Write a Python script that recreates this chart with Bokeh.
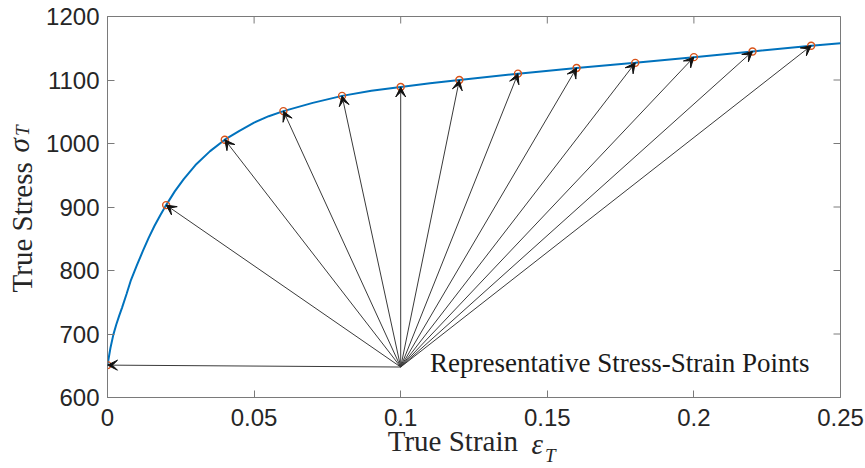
from bokeh.plotting import figure
from bokeh.models import (ColumnDataSource, Arrow, VeeHead, Label, LinearAxis,
                          FixedTicker, Range1d)
from bokeh.embed import file_html
from bokeh.resources import INLINE

# ---- data ----
curve_strain = [0, 0.001, 0.002, 0.003, 0.004, 0.005, 0.0065, 0.008, 0.01, 0.012,
                0.014, 0.016, 0.018, 0.02, 0.023, 0.026, 0.03, 0.035, 0.04, 0.045,
                0.05, 0.055, 0.06, 0.07, 0.08, 0.09, 0.10, 0.11, 0.12, 0.14, 0.16,
                0.18, 0.20, 0.22, 0.24, 0.25]
curve_stress = [651, 678, 699, 715, 729, 742, 763, 785, 808, 830,
                851, 870, 887, 903, 925, 944, 966, 988, 1006, 1020,
                1033, 1043, 1051, 1064, 1075, 1083, 1089, 1095, 1100, 1110, 1119,
                1127, 1136, 1145, 1154, 1158]

point_strain = [0, 0.02, 0.04, 0.06, 0.08, 0.10, 0.12, 0.14, 0.16, 0.18, 0.20, 0.22, 0.24]
point_stress = [651, 903, 1006, 1051, 1075, 1089, 1100, 1110, 1119, 1127, 1136, 1145, 1154]

origin_strain = 0.1
origin_stress = 648

x_ticks = [0, 0.05, 0.1, 0.15, 0.2, 0.25]
x_tick_labels = ["0", "0.05", "0.1", "0.15", "0.2", "0.25"]
y_ticks = [600, 700, 800, 900, 1000, 1100, 1200]
y_tick_labels = ["600", "700", "800", "900", "1000", "1100", "1200"]

annotation_text = "Representative Stress-Strain Points"
x_label_main, x_label_sym, x_label_sub = "True Strain", "\u03b5", "T"
y_label_main, y_label_sym, y_label_sub = "True Stress", "\u03c3", "T"

X_MIN, X_MAX = 0, 0.25
Y_MIN, Y_MAX = 600, 1200

# ---- figure ----
AX = "#262626"
AXLINE = "#7a7a7a"
p = figure(width=865, height=468, x_range=Range1d(X_MIN, X_MAX), y_range=Range1d(Y_MIN, Y_MAX),
           output_backend="svg", toolbar_location=None,
           min_border_left=106, min_border_right=25, min_border_top=16, min_border_bottom=71)
p.grid.visible = False
p.outline_line_color = AXLINE
p.outline_line_width = 1
p.background_fill_color = "white"
p.border_fill_color = "white"

def style_axis(ax, ticks, labels, standoff):
    ax.ticker = FixedTicker(ticks=ticks)
    ax.major_label_overrides = {t: l for t, l in zip(ticks, labels)}
    ax.major_tick_in = 7
    ax.major_tick_out = 0
    ax.minor_tick_in = 0
    ax.minor_tick_out = 0
    ax.axis_line_color = AXLINE
    ax.axis_line_width = 1
    ax.major_tick_line_color = AXLINE
    ax.major_label_text_font = "Liberation Sans"
    ax.major_label_text_color = AX
    ax.major_label_standoff = standoff
    ax.major_label_text_font_size = "24px"

style_axis(p.xaxis[0], x_ticks, x_tick_labels, 11)
style_axis(p.yaxis[0], y_ticks, y_tick_labels, 8)

# axis-title pieces carried by bare extra axes (one tick label each), so that
# the subscripts can sit next to the symbols outside the frame
def title_axis(pos, text, size, style, standoff, vertical):
    ax = LinearAxis(ticker=FixedTicker(ticks=[pos]), major_label_overrides={pos: text},
                    axis_line_color=None, major_tick_line_color=None,
                    minor_tick_line_color=None, major_tick_in=0, major_tick_out=0,
                    minor_tick_in=0, minor_tick_out=0,
                    major_label_text_font="Liberation Serif",
                    major_label_text_font_size=size, major_label_text_font_style=style,
                    major_label_text_color=AX, major_label_standoff=standoff)
    if vertical:
        ax.major_label_orientation = "parallel"
    return ax

# x title: "True Strain ε_T"
p.add_layout(title_axis(0.1178, x_label_main, "29px", "normal", -4, False), "below")
p.add_layout(title_axis(0.1466, x_label_sym, "29px", "italic", -32, False), "below")
p.add_layout(title_axis(0.1510, x_label_sub, "19px", "italic", -18, False), "below")
# y title: "True Stress σ_T"
p.add_layout(title_axis(868, y_label_main, "29px", "normal", 5, True), "left")
p.add_layout(title_axis(997, y_label_sym, "29px", "italic", -32, True), "left")
p.add_layout(title_axis(1020, y_label_sub, "19px", "italic", -33, True), "left")

# inward ticks on the top and right edges (box on): dash markers centred on the
# frame edge, the outer half is clipped away by the frame
p.scatter(x_ticks, [Y_MAX] * len(x_ticks), marker="dash", size=14, angle=1.5708,
          line_color=AXLINE, line_width=1)
p.scatter([X_MAX] * len(y_ticks), y_ticks, marker="dash", size=14,
          line_color=AXLINE, line_width=1)

# ---- curve and points ----
p.line(curve_strain, curve_stress, line_color="#0072BD", line_width=2)
p.scatter(point_strain, point_stress, marker="circle", size=7, fill_color=None,
          line_color="#D95319", line_width=1.4)

# ---- arrows ----
n = len(point_strain)
arrow_src = ColumnDataSource(dict(xs=[origin_strain] * n, ys=[origin_stress] * n,
                                  xe=point_strain, ye=point_stress))
p.add_layout(Arrow(end=VeeHead(size=10, fill_color="#111111", line_color="#111111", line_width=1),
                   source=arrow_src, x_start="xs", y_start="ys", x_end="xe", y_end="ye",
                   line_color="#3a3a3a", line_width=1))

# ---- annotation ----
p.add_layout(Label(x=0.110, y=655, text=annotation_text, text_font="Liberation Serif",
                   text_font_size="27px", text_color="#1a1a1a", text_baseline="alphabetic"))

open("out.html", "w").write(file_html(p, INLINE))
